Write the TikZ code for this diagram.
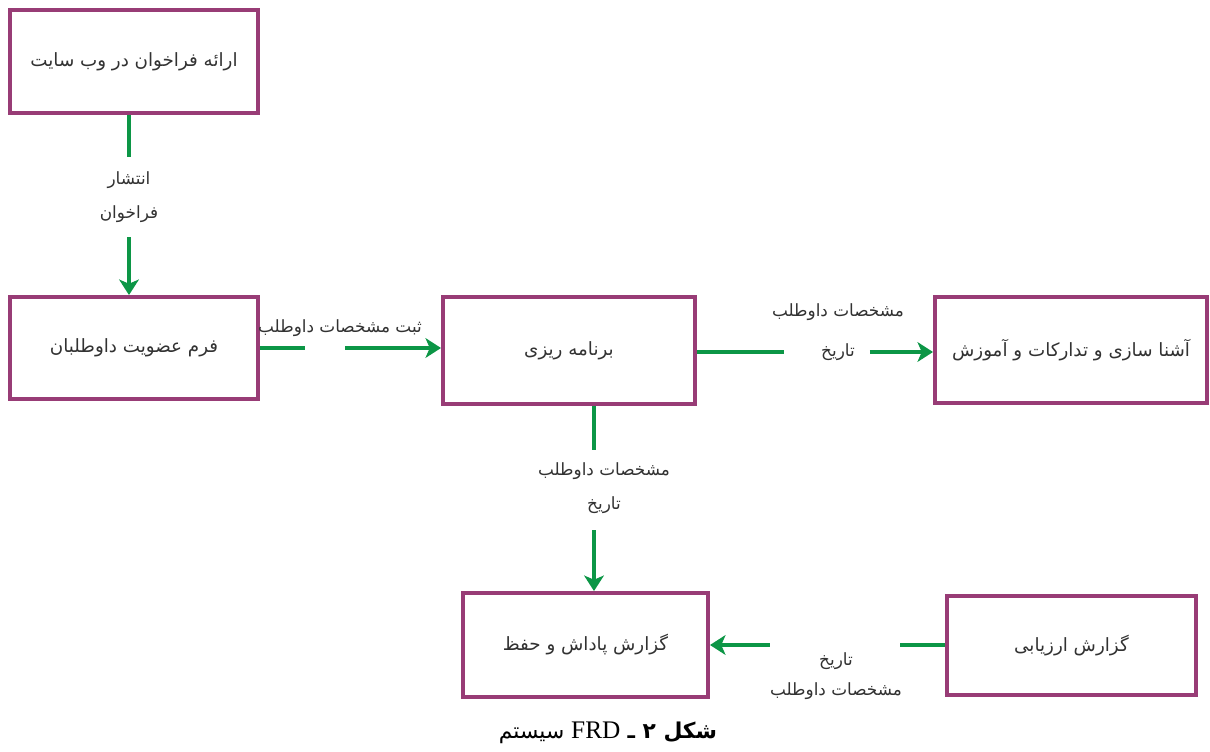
\documentclass[tikz,border=0pt]{standalone}
\usepackage{fontspec}
\usetikzlibrary{arrows.meta,positioning,calc}
\TeXXeTstate=1
\newfontfamily\arabicfont[Script=Arabic]{DejaVu Sans}
\newfontfamily\latinfont{Liberation Serif}
\definecolor{boxcol}{RGB}{152,60,118}
\definecolor{flowcol}{RGB}{12,150,70}
\definecolor{txtcol}{RGB}{50,50,50}
\newcommand{\rl}[1]{\beginR #1\endR}

\begin{document}
\begin{tikzpicture}[
    x=0.025cm, y=-0.025cm,
    >={Stealth[length=11pt,width=14pt,inset=3pt]},
    box/.style={rectangle, draw=boxcol, line width=2.8pt, fill=white, align=center, font=\arabicfont\fontsize{13}{16}\selectfont, text=txtcol, inner sep=2pt},
    lbl/.style={align=center, font=\arabicfont\fontsize{12}{24}\selectfont, text=txtcol, inner sep=0pt},
    gapnode/.style={inner sep=0pt, minimum height=0pt, minimum width=0pt},
    link/.style={draw=flowcol, line width=3pt},
    arrow/.style={link, ->},
]
\path[use as bounding box, fill=white] (0,0) rectangle (1210,751);

% boxes
\node[box, minimum width=6.2cm, minimum height=2.575cm] (call) at (134,61.5) {\rl{ارائه فراخوان در وب سایت}};
\node[box, minimum width=6.2cm, minimum height=2.55cm] (form) at (134,348) {\rl{فرم عضویت داوطلبان}};
\node[box, minimum width=6.3cm, minimum height=2.675cm] (plan) at (569,350.5) {\rl{برنامه ریزی}};
\node[box, minimum width=6.8cm, minimum height=2.65cm] (train) at (1071,350) {\rl{آشنا سازی  و تدارکات و آموزش}};
\node[box, minimum width=6.125cm, minimum height=2.6cm] (reward) at (585.5,645) {\rl{گزارش پاداش و حفظ}};
\node[box, minimum width=6.225cm, minimum height=2.475cm] (evalrep) at (1071.5,645.5) {\rl{گزارش ارزیابی}};

% labels on the flows
\node[lbl, minimum height=2cm] (pub) at (129,197) {\rl{انتشار}\\\rl{فراخوان}};
\node[gapnode, minimum width=1cm] (gform) at (325,348) {};
\node[lbl] (regl) at (340,328) {\rl{ثبت مشخصات داوطلب}};
\node[gapnode, minimum width=2.125cm] (gtrain) at (827,352) {};
\node[lbl, font=\arabicfont\fontsize{12}{28}\selectfont] (trainl) at (838,332) {\rl{مشخصات داوطلب}\\\rl{تاریخ}};
\node[gapnode, minimum height=2cm] (greward) at (594,490) {};
\node[lbl] (rewl) at (604,488) {\rl{مشخصات داوطلب}\\\rl{تاریخ}};
\node[gapnode, minimum width=3.25cm] (geval) at (835,645) {};
\node[lbl, font=\arabicfont\fontsize{12}{21}\selectfont] (evall) at (836,676) {\rl{تاریخ}\\\rl{مشخصات داوطلب}};

% flows
\draw[link] (call.south -| pub) -- (pub);
\draw[arrow] (pub) -- (form.north -| pub);
\draw[link] (form.east |- gform) -- (gform);
\draw[arrow] (gform) -- (gform -| plan.west);
\draw[link] (plan.east |- gtrain) -- (gtrain);
\draw[arrow] (gtrain) -- (gtrain -| train.west);
\draw[link] (plan.south -| greward) -- (greward);
\draw[arrow] (greward) -- (reward.north -| greward);
\draw[link] (evalrep.west |- geval) -- (geval);
\draw[arrow] (geval) -- (geval -| reward.east);

% caption
\node[font=\arabicfont\fontsize{15.5}{18}\selectfont, text=black] (cap) at (608,733) {\beginR\textbf{شکل ۲ ـ} \beginL{\latinfont\fontsize{18}{18}\selectfont FRD}\endL{} سیستم\endR};
\end{tikzpicture}
\end{document}
